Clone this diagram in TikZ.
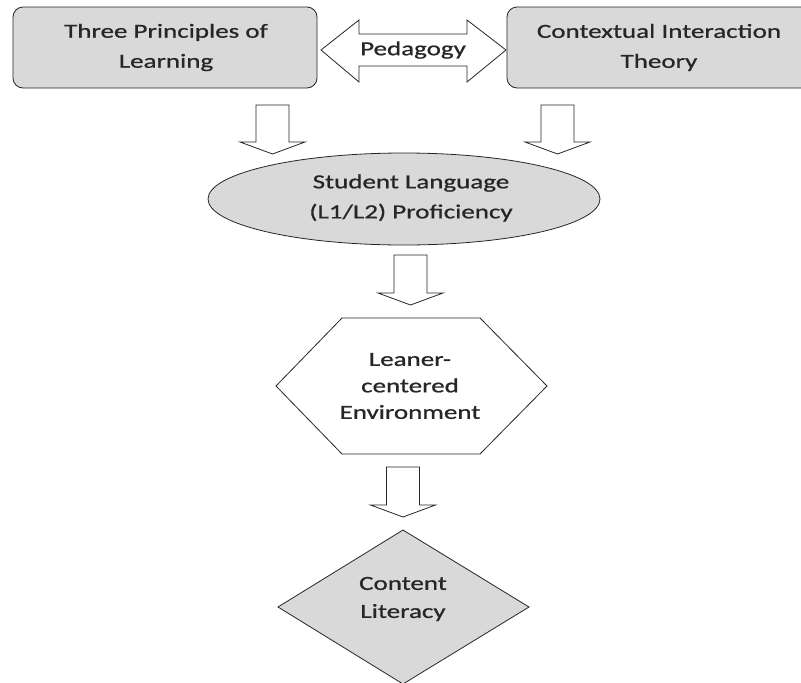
\documentclass[tikz,border=0pt]{standalone}
\usepackage{fontspec}
\setmainfont{Carlito}[FakeStretch=1.35,FakeBold=0.8]
\definecolor{boxgray}{HTML}{D9D9D9}
\definecolor{inkline}{HTML}{262626}
\newcommand\blockdn[4]{% name, cx, top, tip
  \coordinate (#1) at (#2,#4);
  \draw[blockarrow] (#2-16.5,#3) -- (#2+16.5,#3) -- (#2+16.5,#4-12) -- (#2+32.5,#4-12)
    -- (#1) -- (#2-32.5,#4-12) -- (#2-16.5,#4-12) -- cycle;}
\begin{document}
\begin{tikzpicture}[x=1pt,y=-1pt,line width=0.8pt,
  grayshape/.style={draw=inkline,fill=boxgray,line join=round},
  whiteshape/.style={draw=inkline,fill=white,line join=miter},
  blockarrow/.style={draw=inkline,fill=white,line join=miter},
  txt/.style={align=center,inner sep=0pt,text=black!85,font=\fontsize{20}{30}\selectfont}]
\useasboundingbox (0,0) rectangle (801,683);
\clip (0,0) rectangle (801,683);
\fill[white] (0,0) rectangle (801,683);

% top boxes
\draw[grayshape,rounded corners=10pt] (13,7) rectangle (317,88);
\node[txt] (tpl) at (166,47.5) {Three Principles of\\Learning};
\draw[grayshape,rounded corners=10pt] (507,7) rectangle (815,88);
\node[txt] (cit) at (659,47.5) {Contextual Interaction\\Theory};

% pedagogy double arrow
\draw[blockarrow] (321,50) -- (359,20) -- (359,34) -- (467,34) -- (467,20) -- (506,50)
  -- (467,82) -- (467,66) -- (359,66) -- (359,82) -- cycle;
\node[txt] (ped) at (413,50) {Pedagogy};

% down arrows
\blockdn{a1}{272.5}{105}{154}
\blockdn{a2}{557.5}{105}{154}

% ellipse
\draw[grayshape] (404,199) ellipse [x radius=196, y radius=46];
\node[txt] (slp) at (411,198) {Student Language\\(L1/L2) Proficiency};

\blockdn{a3}{410.5}{255}{305}

% hexagon
\draw[whiteshape] (276,386) -- (342,318) -- (480,318) -- (547,386) -- (480,454) -- (342,454) -- cycle;
\node[txt,font=\fontsize{20}{26.5}\selectfont] (lce) at (410,386) {Leaner-\\centered\\Environment};

\blockdn{a4}{403}{467}{517}

% diamond
\draw[grayshape,line join=miter] (403,530) -- (529,607) -- (403,684) -- (278,607) -- cycle;
\node[txt,font=\fontsize{20}{28}\selectfont] (cl) at (403,599) {Content\\Literacy};
\end{tikzpicture}
\end{document}
